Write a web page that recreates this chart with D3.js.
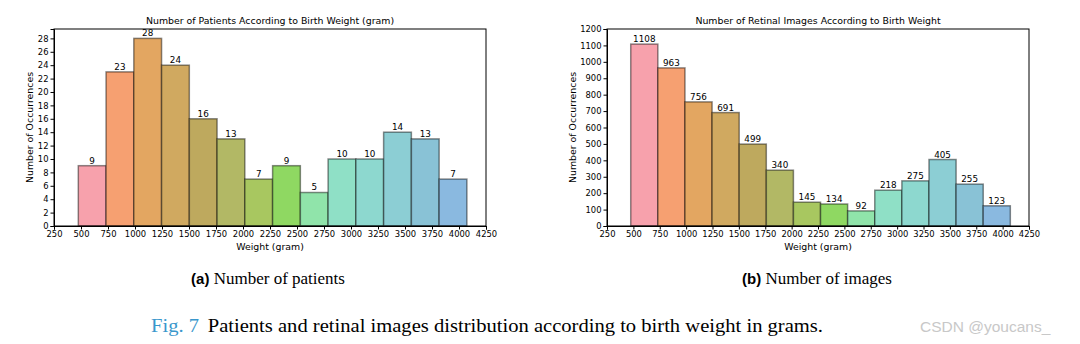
<!DOCTYPE html>
<html>
<head>
<meta charset="utf-8">
<script src="https://cdn.jsdelivr.net/npm/d3@7"></script>
<style>
  body { margin: 0; background: #fff; }
  svg text { font-family: "DejaVu Sans", sans-serif; }
  .tick text { font-size: 8.4px; fill: #000; }
  .tick line, .domain { stroke: #000; }
</style>
</head>
<body>
<svg id="fig" width="1080" height="344"></svg>
<script>
// bin edges (gram), shared by both histograms
var binEdges = [475, 732, 989, 1246, 1503, 1760, 2017, 2274, 2531, 2788, 3045, 3302, 3559, 3816, 4073];
var patientCounts = [9, 23, 28, 24, 16, 13, 7, 9, 5, 10, 10, 14, 13, 7];
var imageCounts = [1108, 963, 756, 691, 499, 340, 145, 134, 92, 218, 275, 405, 255, 123];
var barColors = ["#f7a1ac", "#f6a071", "#e3a661", "#d0a960", "#bea95e", "#b2b865", "#a8c760", "#8fd862",
                 "#90e4aa", "#8fe0c6", "#8dd8cf", "#8cced4", "#89c2d6", "#8ab9e0"];
var xTicks = [250, 500, 750, 1000, 1250, 1500, 1750, 2000, 2250, 2500, 2750, 3000, 3250, 3500, 3750, 4000, 4250];
var patientTicks = [0, 2, 4, 6, 8, 10, 12, 14, 16, 18, 20, 22, 24, 26, 28];
var imageTicks = [0, 100, 200, 300, 400, 500, 600, 700, 800, 900, 1000, 1100, 1200];

var svg = d3.select("#fig");

function drawHist(opts) {
  var g = svg.append("g");
  var x = d3.scaleLinear().domain([250, 4250]).range([opts.left, opts.right]);
  var y = d3.scaleLinear().domain([0, opts.ymax]).range([opts.bottom, opts.top]);

  var bins = opts.values.map(function(v, i) {
    return {x0: binEdges[i], x1: binEdges[i + 1], v: v, c: barColors[i]};
  });

  g.selectAll("rect.bar").data(bins).enter().append("rect")
    .attr("class", "bar")
    .attr("x", function(d) { return x(d.x0); })
    .attr("y", function(d) { return y(d.v); })
    .attr("width", function(d) { return x(d.x1) - x(d.x0); })
    .attr("height", function(d) { return opts.bottom - y(d.v); })
    .style("fill", function(d) { return d.c; })
    .style("stroke", "#000")
    .style("stroke-opacity", 0.45)
    .style("stroke-width", 1.5);

  g.selectAll("text.val").data(bins).enter().append("text")
    .attr("class", "val")
    .attr("x", function(d) { return (x(d.x0) + x(d.x1)) / 2; })
    .attr("y", function(d) { return y(d.v) - 2; })
    .attr("text-anchor", "middle")
    .style("font-size", "8.8px")
    .text(function(d) { return d.v; });

  // frame
  g.append("rect")
    .attr("x", opts.left).attr("y", opts.top)
    .attr("width", opts.right - opts.left).attr("height", opts.bottom - opts.top)
    .style("fill", "none").style("stroke", "#000").style("stroke-width", 1);

  g.append("g")
    .attr("transform", "translate(0," + opts.bottom + ")")
    .call(d3.axisBottom(x).tickValues(xTicks).tickSize(3.5).tickPadding(2).tickFormat(d3.format("d")));
  g.append("g")
    .attr("transform", "translate(" + opts.left + ",0)")
    .call(d3.axisLeft(y).tickValues(opts.yTicks).tickSize(3.5).tickPadding(2).tickFormat(d3.format("d")));

  g.append("text")
    .attr("x", (opts.left + opts.right) / 2).attr("y", opts.top - 5)
    .attr("text-anchor", "middle").style("font-size", "9.4px")
    .text(opts.title);
  g.append("text")
    .attr("x", (opts.left + opts.right) / 2).attr("y", opts.bottom + 24)
    .attr("text-anchor", "middle").style("font-size", "9.4px")
    .text("Weight (gram)");
  g.append("text")
    .attr("transform", "translate(" + opts.ylabelX + "," + ((opts.top + opts.bottom) / 2) + ") rotate(-90)")
    .attr("text-anchor", "middle").style("font-size", "9.4px")
    .text("Number of Occurrences");
}

drawHist({left: 54, right: 486, top: 29, bottom: 226, ymax: 29.4, values: patientCounts,
  yTicks: patientTicks, ylabelX: 33, title: "Number of Patients According to Birth Weight (gram)"});
drawHist({left: 607, right: 1029, top: 29, bottom: 226, ymax: 1200, values: imageCounts,
  yTicks: imageTicks, ylabelX: 576, title: "Number of Retinal Images According to Birth Weight"});

// sub captions
function subCaption(cx, tag, label) {
  var t = svg.append("text").attr("x", cx).attr("y", 284).attr("text-anchor", "middle");
  t.append("tspan").style("font-family", "'Liberation Sans', Arial, sans-serif")
    .style("font-weight", "bold").style("font-size", "15px").text(tag);
  t.append("tspan").style("font-family", "'Liberation Serif', serif")
    .style("font-size", "17px").text(" " + label);
}
subCaption(268, "(a)", "Number of patients");
subCaption(817, "(b)", "Number of images");

var fig = svg.append("text").attr("x", 151).attr("y", 332)
  .attr("textLength", 672).attr("lengthAdjust", "spacingAndGlyphs")
  .style("font-family", "'Liberation Serif', serif").style("font-size", "19px");
fig.append("tspan").style("fill", "#3a97cc").text("Fig. 7");
fig.append("tspan").attr("dx", 8).text("Patients and retinal images distribution according to birth weight in grams.");

svg.append("text").attr("x", 920).attr("y", 332)
  .style("font-family", "'Liberation Sans', Arial, sans-serif").style("font-size", "15.5px")
  .style("fill", "#c8c8c8").text("CSDN @youcans_");
</script>
</body>
</html>
